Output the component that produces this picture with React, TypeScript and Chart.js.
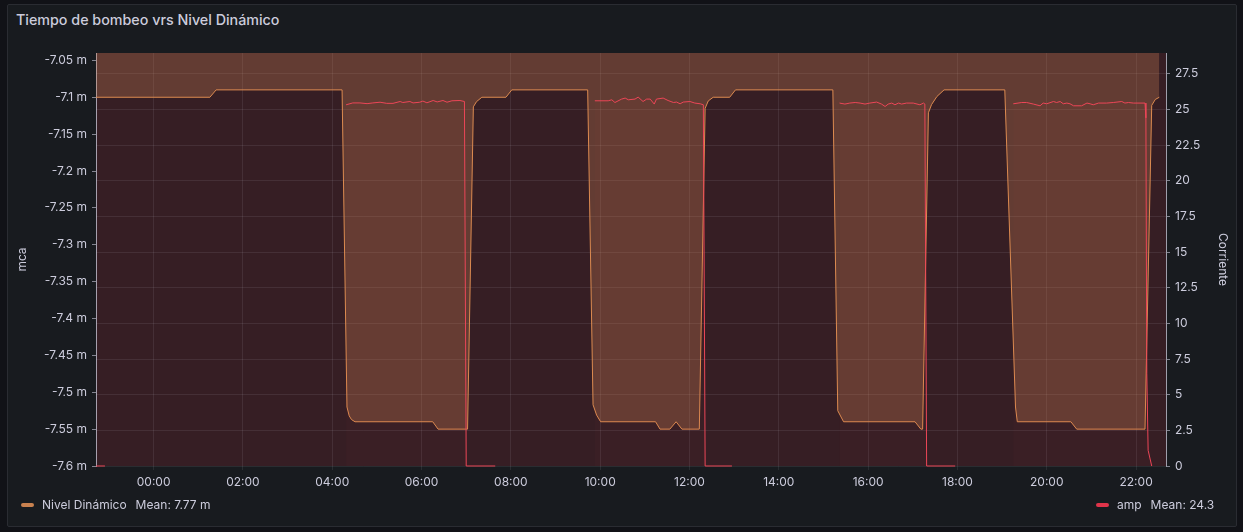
import React, { useEffect, useRef } from 'react';
import { Chart, registerables } from 'chart.js';

Chart.register(...registerables);

// Nivel Dinámico (left axis, m) — hours relative to 00:00
const levelHours = [
  -1.29, 1.26, 1.4, 4.22, 4.33, 4.38, 4.43, 4.51, 6.25, 6.37, 7.03, 7.16, 7.23, 7.35, 7.89, 8.02,
  9.72, 9.84, 9.92, 10.01, 11.24, 11.34, 11.56, 11.7, 11.83, 12.22, 12.35, 12.42, 12.53, 12.9, 13.03,
  15.21, 15.32, 15.45, 17.05, 17.18, 17.22, 17.35, 17.42, 17.54, 17.7, 19.06, 19.3, 19.34, 20.54,
  20.67, 22.2, 22.35, 22.43, 22.52,
];
const levelValues = [
  -7.1, -7.1, -7.09, -7.09, -7.52, -7.532, -7.537, -7.54, -7.54, -7.55, -7.55, -7.113, -7.106, -7.1, -7.1, -7.09,
  -7.09, -7.517, -7.531, -7.54, -7.54, -7.55, -7.55, -7.54, -7.55, -7.55, -7.115, -7.105, -7.1, -7.1, -7.09,
  -7.09, -7.525, -7.54, -7.54, -7.55, -7.55, -7.121, -7.11, -7.099, -7.09, -7.09, -7.52, -7.54, -7.54,
  -7.55, -7.55, -7.111, -7.103, -7.1,
];

// amp (right axis)
const ampHours = [
  -1.29, -1.09, -1.05,
  4.31, 4.46, 4.62, 4.78, 4.91, 5.07, 5.22, 5.36, 5.52, 5.58, 5.74, 5.81, 5.96, 6.03, 6.12, 6.26, 6.35, 6.48, 6.57, 6.68, 6.86, 6.96, 7.0, 7.65, 7.7,
  9.88, 10.18, 10.26, 10.33, 10.48, 10.56, 10.63, 10.78, 10.85, 10.96, 11.04, 11.12, 11.21, 11.26, 11.41, 11.52, 11.64, 11.71, 11.79, 11.86, 12.01, 12.12, 12.24, 12.31, 12.35, 12.95, 13.0,
  15.36, 15.48, 15.59, 15.71, 15.82, 15.93, 16.04, 16.19, 16.3, 16.38, 16.45, 16.53, 16.6, 16.68, 16.75, 16.86, 17.01, 17.16, 17.24, 17.27, 17.31, 17.95, 18.0,
  19.25, 19.44, 19.55, 19.7, 19.85, 19.92, 20.0, 20.15, 20.22, 20.3, 20.37, 20.45, 20.52, 20.6, 20.78, 20.9, 20.97, 21.04, 21.16, 21.34, 21.49, 21.68, 21.75, 21.83, 21.94, 22.2, 22.22, 22.24, 22.27, 22.35,
];
const ampValues = [
  0, 0, null,
  25.32, 25.45, 25.45, 25.4, 25.45, 25.5, 25.42, 25.42, 25.55, 25.48, 25.55, 25.45, 25.5, 25.58, 25.46, 25.62, 25.52, 25.62, 25.5, 25.6, 25.62, 25.55, 0, 0, null,
  25.6, 25.6, 25.67, 25.48, 25.72, 25.79, 25.67, 25.72, 25.86, 25.55, 25.72, 25.72, 25.37, 25.72, 25.79, 25.62, 25.48, 25.51, 25.39, 25.51, 25.55, 25.44, 25.39, 25.32, 0, 0, null,
  25.44, 25.37, 25.44, 25.48, 25.44, 25.37, 25.44, 25.51, 25.37, 25.2, 25.37, 25.44, 25.32, 25.44, 25.37, 25.44, 25.44, 25.32, 25.44, 25.37, 0, 0, null,
  25.39, 25.48, 25.48, 25.37, 25.25, 25.44, 25.39, 25.55, 25.48, 25.55, 25.39, 25.44, 25.39, 25.25, 25.25, 25.44, 25.39, 25.32, 25.44, 25.44, 25.48, 25.55, 25.44, 25.48, 25.44, 25.44, 24.4, 6.5, 1.1, 0,
];

const xTickHours = [0, 2, 4, 6, 8, 10, 12, 14, 16, 18, 20, 22];
const leftTicks = [-7.6, -7.55, -7.5, -7.45, -7.4, -7.35, -7.3, -7.25, -7.2, -7.15, -7.1, -7.05];
const rightTicks = [0, 2.5, 5, 7.5, 10, 12.5, 15, 17.5, 20, 22.5, 25, 27.5];

const TEXT = '#ccccdc';
const GRID = 'rgba(204,204,220,0.1)';
const TICKMARK = 'rgba(204,204,220,0.6)';
const AXISLINE = 'rgba(204,204,220,0.75)';
const FONT = { family: 'Inter', size: 12 };

export default function App() {
  const ref = useRef<HTMLCanvasElement>(null);

  useEffect(() => {
    const plotBg = {
      id: 'plotBg',
      beforeDraw(chart: any) {
        const { ctx, chartArea: a } = chart;
        ctx.save();
        ctx.fillStyle = '#361e24';
        ctx.fillRect(a.left, a.top, a.right - a.left, a.bottom - a.top);
        ctx.restore();
      },
    };

    const chart = new Chart(ref.current as HTMLCanvasElement, {
      type: 'line',
      data: {
        datasets: [
          {
            label: 'Nivel Dinámico',
            data: levelHours.map((h, i) => ({ x: h, y: levelValues[i] })),
            yAxisID: 'yL',
            borderColor: '#dc8a50',
            borderWidth: 1,
            pointRadius: 0,
            fill: 'end',
            backgroundColor: 'rgba(204,133,86,0.3)',
            tension: 0,
            order: 1,
          },
          {
            label: 'amp',
            data: ampHours.map((h, i) => ({ x: h, y: ampValues[i] })),
            yAxisID: 'yR',
            borderColor: '#ec4657',
            borderWidth: 1,
            pointRadius: 0,
            fill: 'origin',
            backgroundColor: 'rgba(242,73,92,0.025)',
            spanGaps: false,
            tension: 0,
            clip: 3,
            order: 0,
          },
        ],
      },
      options: {
        responsive: false,
        maintainAspectRatio: false,
        animation: false,
        layout: { padding: { top: 53, left: 0, right: 0, bottom: 0 } },
        plugins: { legend: { display: false }, tooltip: { enabled: false } },
        scales: {
          x: {
            type: 'linear',
            position: 'bottom',
            min: -1.29,
            max: 22.67,
            afterBuildTicks: (s: any) => {
              s.ticks = xTickHours.map((v) => ({ value: v }));
            },
            afterFit: (s: any) => {
              s.height = 66;
            },
            ticks: {
              autoSkip: false,
              maxRotation: 0,
              color: TEXT,
              font: FONT,
              padding: 5,
              callback: (v: any) => `${String(v).padStart(2, '0')}:00`,
            },
            grid: { color: GRID, tickLength: 4, drawTicks: true, tickColor: GRID },
            border: { display: false },
          },
          yL: {
            type: 'linear',
            position: 'left',
            min: -7.6,
            max: -7.04,
            afterBuildTicks: (s: any) => {
              s.ticks = leftTicks.map((v) => ({ value: v }));
            },
            afterFit: (s: any) => {
              s.width = 96;
            },
            ticks: {
              autoSkip: false,
              color: TEXT,
              font: FONT,
              padding: 5,
              callback: (v: any) => `${v} m`,
            },
            grid: { drawOnChartArea: false, drawTicks: true, tickLength: 4, tickColor: TICKMARK },
            border: { display: true, color: AXISLINE },
            title: { display: true, text: 'mca', color: TEXT, font: FONT, padding: { top: 15, bottom: 0 } },
          },
          yR: {
            type: 'linear',
            position: 'right',
            min: 0,
            max: 28.95,
            afterBuildTicks: (s: any) => {
              s.ticks = rightTicks.map((v) => ({ value: v }));
            },
            afterFit: (s: any) => {
              s.width = 77;
            },
            ticks: {
              autoSkip: false,
              color: TEXT,
              font: FONT,
              padding: 5,
              callback: (v: any) => `${v}`,
            },
            grid: { color: GRID, drawTicks: true, tickLength: 4, tickColor: TICKMARK },
            border: { display: true, color: AXISLINE },
            title: { display: true, text: 'Corriente', color: TEXT, font: FONT, padding: { top: 13, bottom: 0 } },
          },
        },
      },
      plugins: [plotBg],
    } as any);

    return () => chart.destroy();
  }, []);

  const legendText: React.CSSProperties = {
    position: 'absolute',
    top: 497,
    height: 16,
    lineHeight: '16px',
    fontSize: 12,
    color: TEXT,
    whiteSpace: 'nowrap',
  };

  return (
    <div
      style={{
        position: 'fixed',
        left: 0,
        top: 0,
        width: 1243,
        height: 532,
        background: '#111217',
        overflow: 'hidden',
        fontFamily: 'Inter, sans-serif',
      }}
    >
      <div
        style={{
          position: 'absolute',
          left: 7,
          top: 4,
          width: 1228,
          height: 521,
          background: '#181b1f',
          border: '1px solid #2a2c32',
          borderRadius: 2,
        }}
      />
      <div
        style={{
          position: 'absolute',
          left: 16,
          top: 11,
          fontSize: 14.3,
          lineHeight: '17px',
          fontWeight: 500,
          color: TEXT,
          whiteSpace: 'nowrap',
        }}
      >
        Tiempo de bombeo vrs Nivel Dinámico
      </div>
      <canvas
        ref={ref}
        width={1243}
        height={532}
        style={{ position: 'absolute', left: 0, top: 0, width: 1243, height: 532, display: 'block' }}
      />
      {/* Legend */}
      <div style={{ position: 'absolute', left: 21, top: 503, width: 13, height: 4, borderRadius: 2, background: '#c8814f' }} />
      <div style={{ ...legendText, left: 42 }}>
        Nivel Dinámico
        <span style={{ marginLeft: 9 }}>Mean: 7.77 m</span>
      </div>
      <div style={{ position: 'absolute', left: 1096, top: 503, width: 13, height: 4, borderRadius: 2, background: '#e0344a' }} />
      <div style={{ ...legendText, left: 1117 }}>
        amp
        <span style={{ marginLeft: 9 }}>Mean: 24.3</span>
      </div>
    </div>
  );
}
